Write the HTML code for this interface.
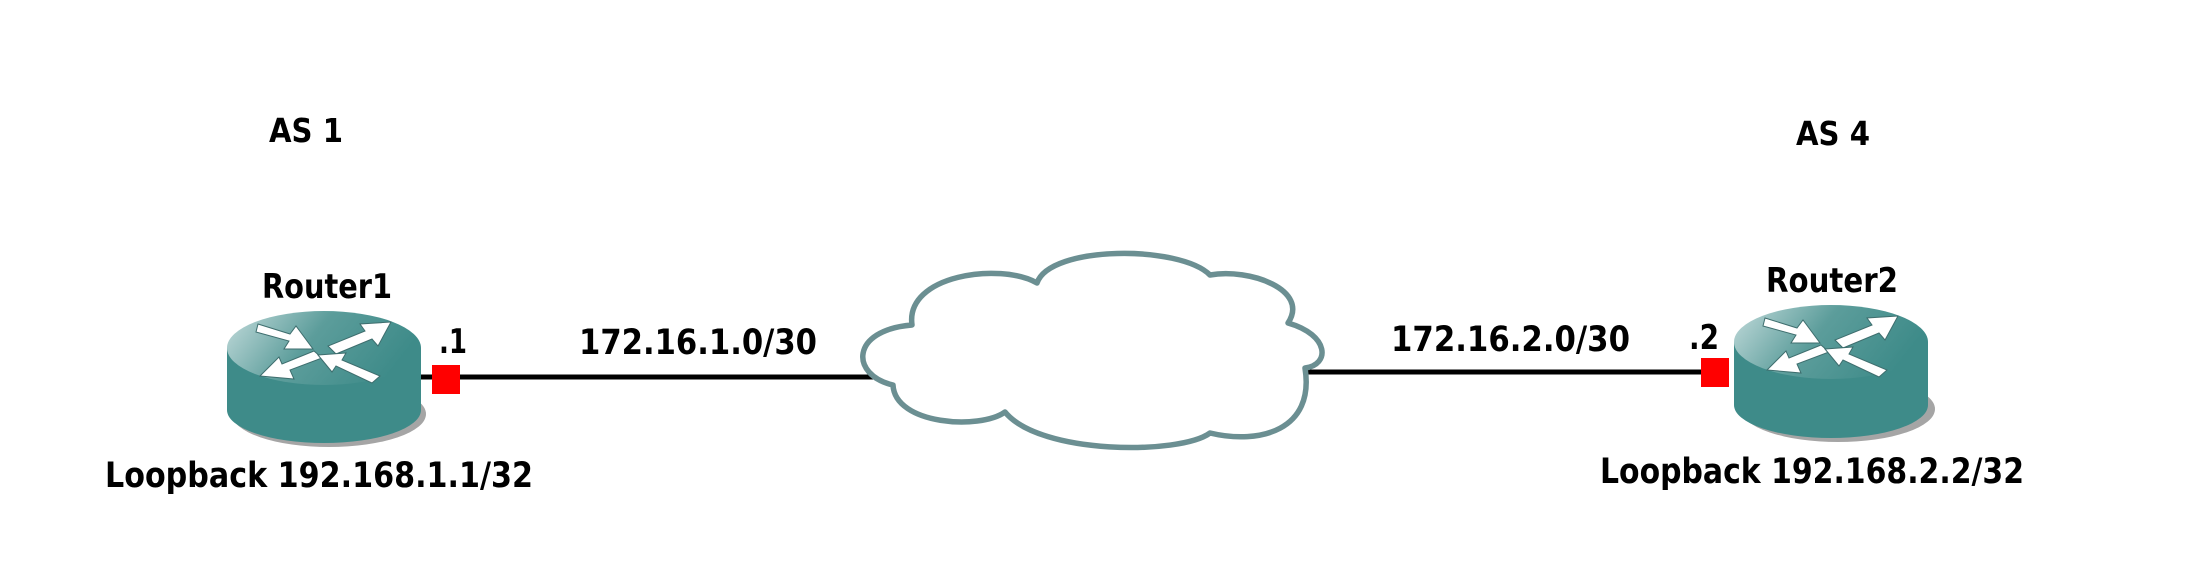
<!DOCTYPE html>
<html><head><meta charset="utf-8"><style>
html,body{margin:0;padding:0;background:#fff;}
svg{display:block;}
text{font-family:"DejaVu Sans","Liberation Sans",sans-serif;font-weight:bold;fill:#000;}
</style></head><body>
<svg width="2198" height="584" viewBox="0 0 2198 584">
<defs>
<linearGradient id="topg" x1="0" y1="0" x2="1" y2="0.3">
<stop offset="0" stop-color="#c4dcdc"/><stop offset="0.5" stop-color="#5c9d9b"/><stop offset="1" stop-color="#3e8b89"/>
</linearGradient>
</defs>

<text x="269" y="142" font-size="33" textLength="74" lengthAdjust="spacingAndGlyphs">AS 1</text>
<text x="1796" y="145" font-size="33" textLength="74" lengthAdjust="spacingAndGlyphs">AS 4</text>

<line x1="421" y1="377" x2="880" y2="377" stroke="#000" stroke-width="5"/>
<line x1="1300" y1="372" x2="1703" y2="372" stroke="#000" stroke-width="5"/>

<g>
<path d="M 912 325 C 905 275, 1000 262, 1037 283 C 1050 245, 1180 245, 1210 275 C 1250 268, 1310 290, 1288 323 C 1330 335, 1330 365, 1305 368 C 1315 430, 1260 445, 1210 433 C 1180 455, 1040 455, 1005 412 C 980 430, 895 425, 893 385 C 850 375, 850 330, 912 325 Z" fill="#fff" stroke="#6b8f92" stroke-width="5.5" stroke-linejoin="round"/>
</g>

<g>
<ellipse cx="329" cy="414" rx="97" ry="33" fill="#a5a5a5"/>
<path d="M227 348 L227 410 A97 33 0 0 0 421 410 L421 348 Z" fill="#3e8b89"/>
<ellipse cx="324" cy="348" rx="97" ry="37" fill="url(#topg)"/>
<g fill="#fff" stroke="#3e6e6e" stroke-width="1">
<polygon points="258,324 290,334 296,326 313,349 284,349 289,341 256,332"/>
<polygon points="391,322 360,324 365,331 328,346 336,354 372,339 378,346"/>
<polygon points="260,376 294,379 290,370 322,358 314,351 282,364 279,357"/>
<polygon points="318,355 346,353 342,360 380,376 372,383 336,366 332,372"/>
</g>
</g>
<rect x="432" y="365" width="28" height="29" fill="#f00"/>
<text x="327" y="298" font-size="34" text-anchor="middle" textLength="130" lengthAdjust="spacingAndGlyphs">Router1</text>
<text x="439" y="353" font-size="34" textLength="28" lengthAdjust="spacingAndGlyphs">.1</text>
<text x="579" y="354" font-size="35" textLength="238" lengthAdjust="spacingAndGlyphs">172.16.1.0/30</text>
<text x="105" y="487" font-size="35" textLength="428" lengthAdjust="spacingAndGlyphs">Loopback 192.168.1.1/32</text>

<g>
<ellipse cx="1838" cy="409" rx="97" ry="33" fill="#a5a5a5"/>
<path d="M1734 342 L1734 405 A97 33 0 0 0 1928 405 L1928 342 Z" fill="#3e8b89"/>
<ellipse cx="1831" cy="342" rx="97" ry="37" fill="url(#topg)"/>
<g fill="#fff" stroke="#3e6e6e" stroke-width="1">
<polygon points="1765,318 1797,328 1803,320 1820,343 1791,343 1796,335 1763,326"/>
<polygon points="1898,316 1867,318 1872,325 1835,340 1843,348 1879,333 1885,340"/>
<polygon points="1767,370 1801,373 1797,364 1829,352 1821,345 1789,358 1786,351"/>
<polygon points="1825,349 1853,347 1849,354 1887,370 1879,377 1843,360 1839,366"/>
</g>
</g>
<rect x="1701" y="358" width="28" height="29" fill="#f00"/>
<text x="1832" y="292" font-size="34" text-anchor="middle" textLength="132" lengthAdjust="spacingAndGlyphs">Router2</text>
<text x="1689" y="349" font-size="34" textLength="30" lengthAdjust="spacingAndGlyphs">.2</text>
<text x="1391" y="351" font-size="35" textLength="239" lengthAdjust="spacingAndGlyphs">172.16.2.0/30</text>
<text x="1600" y="483" font-size="35" textLength="424" lengthAdjust="spacingAndGlyphs">Loopback 192.168.2.2/32</text>
</svg>
</body></html>
